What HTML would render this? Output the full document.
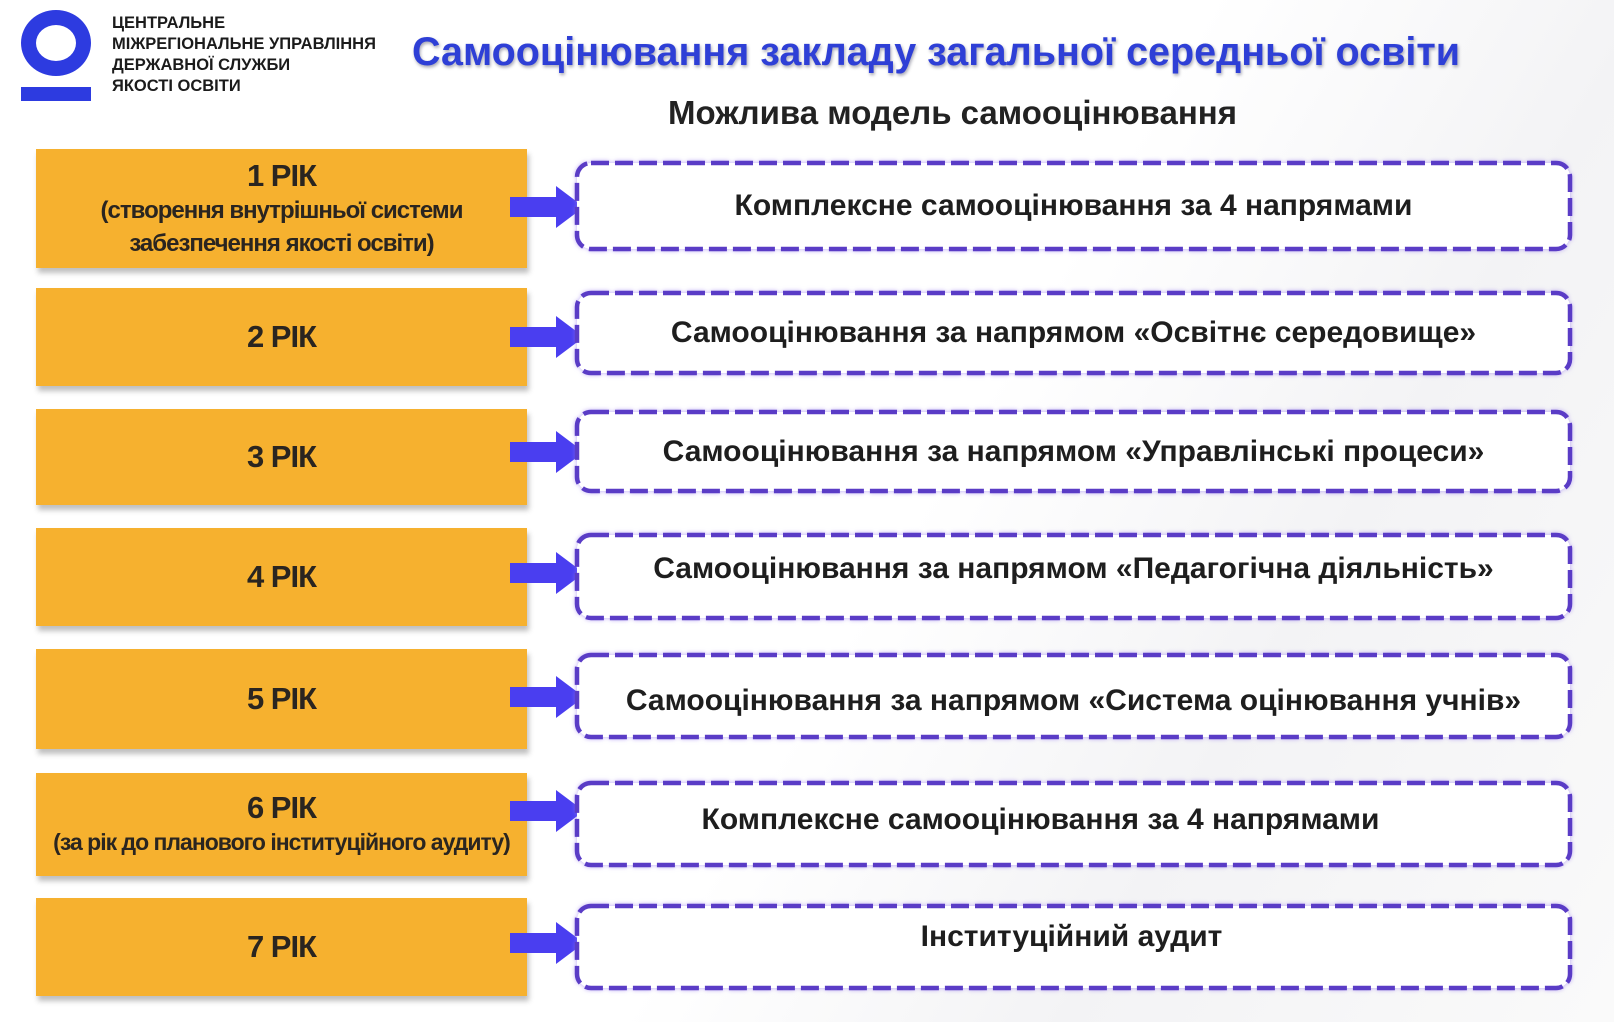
<!DOCTYPE html>
<html><head><meta charset="utf-8"><style>
*{margin:0;padding:0;box-sizing:border-box}
body{width:1614px;height:1022px;background:#fff;position:relative;overflow:hidden;font-family:"Liberation Sans","Noto Sans CJK SC",sans-serif}
.bg{position:absolute;inset:0;background:linear-gradient(120deg,#fff 0%,#fff 55%,#f3f3f5 75%,#fafafa 100%)}
.ring{position:absolute;left:21px;top:10px;width:70px;height:66px;border:15px solid #2d3be0;border-radius:50%}
.bar{position:absolute;left:21px;top:87px;width:70px;height:14px;background:#2d3be0}
.org{position:absolute;left:112px;top:13px;font-size:16.5px;font-weight:bold;line-height:21px;color:#1b1b1b;white-space:nowrap}
.title{position:absolute;left:412px;top:30px;font-size:39.5px;font-weight:bold;color:#2e3fd6;text-shadow:1px 2px 3px rgba(0,0,40,.35);white-space:nowrap}
.sub{position:absolute;left:668px;top:94px;font-size:33px;font-weight:bold;color:#222;white-space:nowrap}
.y{position:absolute;left:36px;width:491px;background:#f6b12f;box-shadow:2px 5px 5px rgba(0,0,0,.25);display:flex;flex-direction:column;align-items:center;justify-content:center;color:#2a2520;font-weight:bold;text-align:center;white-space:nowrap}
.y .h{font-size:31px;letter-spacing:-1px}
.y .s{font-size:24px;letter-spacing:-1px;line-height:33px}
.d{position:absolute;left:574px;width:999px;border-radius:16px;display:flex;align-items:center;justify-content:center;font-size:30px;font-weight:bold;color:#1e1e1e;white-space:nowrap;filter:drop-shadow(0 0 2px rgba(150,120,240,.6))}
.d svg{position:absolute;left:0;top:0}
.d span{position:relative}
.a{position:absolute;left:510px;width:74px;height:42px}
</style></head><body>
<div class="bg"></div>
<div class="ring"></div><div class="bar"></div>
<div class="org">ЦЕНТРАЛЬНЕ<br>МІЖРЕГІОНАЛЬНЕ УПРАВЛІННЯ<br>ДЕРЖАВНОЇ СЛУЖБИ<br>ЯКОСТІ ОСВІТИ</div>
<div class="title">Самооцінювання закладу загальної середньої освіти</div>
<div class="sub">Можлива модель самооцінювання</div>

<div class="y" style="top:149px;height:119px"><div class="h">1 РІК</div><div class="s">(створення внутрішньої системи<br>забезпечення якості освіти)</div></div>
<div class="y" style="top:288px;height:98px"><div class="h">2 РІК</div></div>
<div class="y" style="top:409px;height:96px"><div class="h">3 РІК</div></div>
<div class="y" style="top:528px;height:98px"><div class="h">4 РІК</div></div>
<div class="y" style="top:649px;height:100px"><div class="h">5 РІК</div></div>
<div class="y" style="top:773px;height:103px"><div class="h">6 РІК</div><div class="s" style="font-size:23px">(за рік до планового інституційного аудиту)</div></div>
<div class="y" style="top:898px;height:98px"><div class="h">7 РІК</div></div>

<svg class="a" style="top:186px" viewBox="0 0 74 42"><polygon points="0,11 46,11 46,0 74,21 46,42 46,31 0,31" fill="#4a3ef0"/></svg>
<svg class="a" style="top:316px" viewBox="0 0 74 42"><polygon points="0,11 46,11 46,0 74,21 46,42 46,31 0,31" fill="#4a3ef0"/></svg>
<svg class="a" style="top:431px" viewBox="0 0 74 42"><polygon points="0,11 46,11 46,0 74,21 46,42 46,31 0,31" fill="#4a3ef0"/></svg>
<svg class="a" style="top:552px" viewBox="0 0 74 42"><polygon points="0,11 46,11 46,0 74,21 46,42 46,31 0,31" fill="#4a3ef0"/></svg>
<svg class="a" style="top:676px" viewBox="0 0 74 42"><polygon points="0,11 46,11 46,0 74,21 46,42 46,31 0,31" fill="#4a3ef0"/></svg>
<svg class="a" style="top:790px" viewBox="0 0 74 42"><polygon points="0,11 46,11 46,0 74,21 46,42 46,31 0,31" fill="#4a3ef0"/></svg>
<svg class="a" style="top:922px" viewBox="0 0 74 42"><polygon points="0,11 46,11 46,0 74,21 46,42 46,31 0,31" fill="#4a3ef0"/></svg>

<div class="d" style="top:160px;height:92px"><svg width="999" height="92"><rect x="3" y="3" width="993" height="86" rx="14" fill="#fff" stroke="#5a3cc6" stroke-width="4.5" stroke-dasharray="18 6"/></svg><span>Комплексне самооцінювання за 4 напрямами</span></div>
<div class="d" style="top:290px;height:86px"><svg width="999" height="86"><rect x="3" y="3" width="993" height="80" rx="14" fill="#fff" stroke="#5a3cc6" stroke-width="4.5" stroke-dasharray="18 6"/></svg><span>Самооцінювання за напрямом «Освітнє середовище»</span></div>
<div class="d" style="top:409px;height:85px"><svg width="999" height="85"><rect x="3" y="3" width="993" height="79" rx="14" fill="#fff" stroke="#5a3cc6" stroke-width="4.5" stroke-dasharray="18 6"/></svg><span>Самооцінювання за напрямом «Управлінські процеси»</span></div>
<div class="d" style="top:532px;height:89px"><svg width="999" height="89"><rect x="3" y="3" width="993" height="83" rx="14" fill="#fff" stroke="#5a3cc6" stroke-width="4.5" stroke-dasharray="18 6"/></svg><span style="top:-8px">Самооцінювання за напрямом «Педагогічна діяльність»</span></div>
<div class="d" style="top:652px;height:88px"><svg width="999" height="88"><rect x="3" y="3" width="993" height="82" rx="14" fill="#fff" stroke="#5a3cc6" stroke-width="4.5" stroke-dasharray="18 6"/></svg><span style="top:5px">Самооцінювання за напрямом «Система оцінювання учнів»</span></div>
<div class="d" style="top:780px;height:88px"><svg width="999" height="88"><rect x="3" y="3" width="993" height="82" rx="14" fill="#fff" stroke="#5a3cc6" stroke-width="4.5" stroke-dasharray="18 6"/></svg><span style="top:-4px;left:-33px">Комплексне самооцінювання за 4 напрямами</span></div>
<div class="d" style="top:903px;height:88px"><svg width="999" height="88"><rect x="3" y="3" width="993" height="82" rx="14" fill="#fff" stroke="#5a3cc6" stroke-width="4.5" stroke-dasharray="18 6"/></svg><span style="top:-10px;left:-2px">Інституційний аудит</span></div>
</body></html>
